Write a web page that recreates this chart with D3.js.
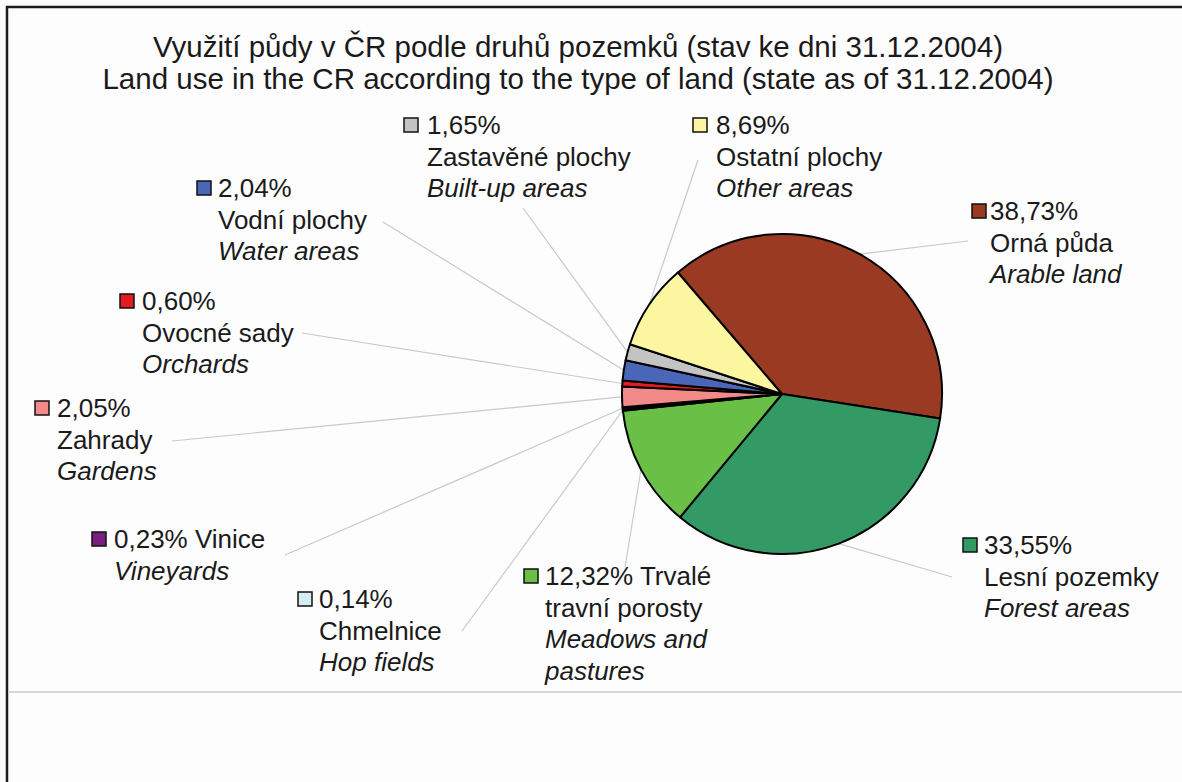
<!DOCTYPE html>
<html>
<head>
<meta charset="utf-8">
<script src="https://cdn.jsdelivr.net/npm/d3@7"></script>
<style>
  html, body { margin: 0; padding: 0; background: #fdfdfd; }
  svg { display: block; }
  text { font-family: "Liberation Sans", Arial, Helvetica, sans-serif; fill: #1a1a1a; }
</style>
</head>
<body>
<svg id="chart" width="1182" height="782"></svg>
<script>
// Land use categories (Czech / English) and their shares in percent
const categories = ["Orná půda", "Lesní pozemky", "Trvalé travní porosty", "Chmelnice", "Vinice",
                    "Zahrady", "Ovocné sady", "Vodní plochy", "Zastavěné plochy", "Ostatní plochy"];
const englishNames = ["Arable land", "Forest areas", "Meadows and pastures", "Hop fields", "Vineyards",
                      "Gardens", "Orchards", "Water areas", "Built-up areas", "Other areas"];
const shares = [38.73, 33.55, 12.32, 0.14, 0.23, 2.05, 0.60, 2.04, 1.65, 8.69];
const sliceColors = ["#9b3a22", "#339965", "#6abf46", "#d4edf4", "#7a1f7e",
                     "#f28a8a", "#e31b23", "#4a66b8", "#c4c4c4", "#fdf6a0"];

const titleLines = [
  "Využití půdy v ČR podle druhů pozemků (stav ke dni 31.12.2004)",
  "Land use in the CR according to the type of land (state as of 31.12.2004)"
];

// Label placement: key square position, text start, first baseline,
// number of Czech words on the first line, English split point, leader end
const labelLayout = [
  { kx: 972, ky: 204, tx: 990, ty: 220, czFirst: 0, enSplit: 0, lx: 968, ly: 241 },
  { kx: 963, ky: 538, tx: 984, ty: 554, czFirst: 0, enSplit: 0, lx: 952, ly: 577 },
  { kx: 524, ky: 569, tx: 545, ty: 585, czFirst: 1, enSplit: 2, lx: 625, ly: 567 },
  { kx: 298, ky: 592, tx: 319, ty: 608, czFirst: 0, enSplit: 0, lx: 462, ly: 631 },
  { kx: 92,  ky: 532, tx: 114, ty: 548, czFirst: 1, enSplit: 0, lx: 285, ly: 555 },
  { kx: 35,  ky: 401, tx: 57,  ty: 417, czFirst: 0, enSplit: 0, lx: 172, ly: 441 },
  { kx: 120, ky: 294, tx: 142, ty: 310, czFirst: 0, enSplit: 0, lx: 302, ly: 333 },
  { kx: 197, ky: 181, tx: 218, ty: 197, czFirst: 0, enSplit: 0, lx: 383, ly: 222 },
  { kx: 404, ky: 118, tx: 427, ty: 134, czFirst: 0, enSplit: 0, lx: 523, ly: 208 },
  { kx: 693, ky: 118, tx: 716, ty: 134, czFirst: 0, enSplit: 0, lx: 698, ly: 160 }
];

const W = 1182, H = 782;
const cx = 782, cy = 394, R = 160;
const startDeg = -40.6;
const fontSize = 26, titleSize = 29.5, lineH = 31.5;

const svg = d3.select("#chart");

// Frame
svg.append("line").attr("x1", 6).attr("x2", W).attr("y1", 7).attr("y2", 7)
  .attr("stroke", "#1c1c1c").attr("stroke-width", 2.5);
svg.append("line").attr("x1", 7).attr("x2", 7).attr("y1", 6).attr("y2", H)
  .attr("stroke", "#1c1c1c").attr("stroke-width", 2.5);
svg.append("line").attr("x1", 8).attr("x2", W).attr("y1", 692).attr("y2", 692)
  .attr("stroke", "#d6d6d6").attr("stroke-width", 2);

// Title
svg.append("g").selectAll("text").data(titleLines).join("text")
  .attr("x", 578).attr("y", (d, i) => 57 + i * 32)
  .attr("text-anchor", "middle").attr("font-size", titleSize)
  .text(d => d);

const data = categories.map((c, i) => ({
  cz: c, en: englishNames[i], value: shares[i], color: sliceColors[i], layout: labelLayout[i]
}));

const a0 = startDeg * Math.PI / 180;
const pie = d3.pie().value(d => d.value).sort(null).startAngle(a0).endAngle(a0 + 2 * Math.PI);
const arcs = pie(data);
const arc = d3.arc().innerRadius(0).outerRadius(R);
const edgeArc = d3.arc().innerRadius(R).outerRadius(R);

// Leader lines from slice edge to label
svg.append("g").selectAll("line").data(arcs).join("line")
  .attr("x1", d => cx + edgeArc.centroid(d)[0])
  .attr("y1", d => cy + edgeArc.centroid(d)[1])
  .attr("x2", d => d.data.layout.lx)
  .attr("y2", d => d.data.layout.ly)
  .attr("stroke", "#c9c9c9").attr("stroke-width", 1.2);

// Slices
svg.append("g").attr("transform", `translate(${cx},${cy})`)
  .selectAll("path").data(arcs).join("path")
  .attr("d", arc)
  .attr("fill", d => d.data.color)
  .attr("stroke", "#000").attr("stroke-width", 2).attr("stroke-linejoin", "round");

// Labels
const pct = v => d3.format(".2f")(v).replace(".", ",") + "%";
const labels = svg.append("g").selectAll("g").data(arcs).join("g");

labels.append("rect")
  .attr("x", d => d.data.layout.kx).attr("y", d => d.data.layout.ky)
  .attr("width", 14).attr("height", 14)
  .attr("fill", d => d.data.color)
  .attr("stroke", "#111").attr("stroke-width", 1.5);

labels.each(function (d) {
  const L = d.data.layout;
  const czWords = d.data.cz.split(" ");
  const enWords = d.data.en.split(" ");
  const lines = [];
  lines.push({ t: pct(d.data.value) + (L.czFirst ? " " + czWords.slice(0, L.czFirst).join(" ") : ""), it: false });
  const czRest = czWords.slice(L.czFirst).join(" ");
  if (czRest) lines.push({ t: czRest, it: false });
  if (L.enSplit) {
    lines.push({ t: enWords.slice(0, L.enSplit).join(" "), it: true });
    lines.push({ t: enWords.slice(L.enSplit).join(" "), it: true });
  } else {
    lines.push({ t: d.data.en, it: true });
  }
  d3.select(this).selectAll("text").data(lines).join("text")
    .attr("x", L.tx).attr("y", (l, i) => L.ty + i * lineH)
    .attr("font-size", fontSize)
    .attr("font-style", l => l.it ? "italic" : "normal")
    .text(l => l.t);
});
</script>
</body>
</html>
